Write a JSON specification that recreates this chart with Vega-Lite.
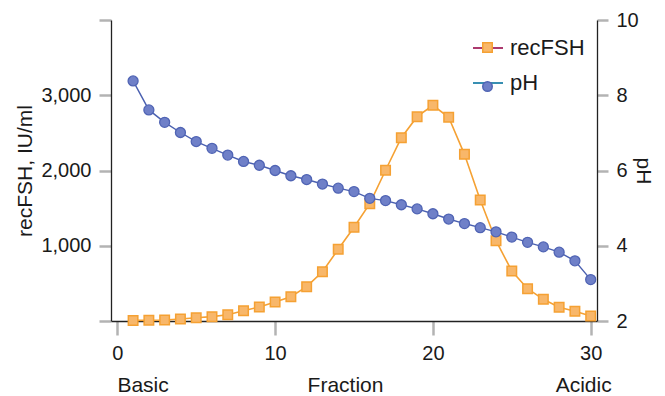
{
  "$schema": "https://vega.github.io/schema/vega-lite/v6.json",
  "width": 486,
  "height": 301,
  "autosize": {"type": "none"},
  "padding": {"left": 111, "top": 20, "right": 68, "bottom": 75},
  "config": {
    "font": "Liberation Sans",
    "view": {"stroke": null},
    "axis": {
      "labelFont": "Liberation Sans",
      "labelFontSize": 20,
      "labelColor": "#1a1a1a",
      "titleFont": "Liberation Sans",
      "titleFontSize": 21,
      "titleFontWeight": "normal",
      "titleColor": "#1a1a1a",
      "domainColor": "#222222",
      "domainWidth": 1.3,
      "tickColor": "#b3b3b3",
      "tickWidth": 2.5,
      "grid": false
    },
    "legend": {
      "labelFont": "Liberation Sans",
      "labelFontSize": 22,
      "labelColor": "#1a1a1a",
      "padding": 0,
      "offset": 0
    }
  },
  "data": {
    "values": [
      {"fraction": 1, "series": "recFSH", "value": 8},
      {"fraction": 2, "series": "recFSH", "value": 10},
      {"fraction": 3, "series": "recFSH", "value": 13},
      {"fraction": 4, "series": "recFSH", "value": 27},
      {"fraction": 5, "series": "recFSH", "value": 44},
      {"fraction": 6, "series": "recFSH", "value": 58},
      {"fraction": 7, "series": "recFSH", "value": 84},
      {"fraction": 8, "series": "recFSH", "value": 137},
      {"fraction": 9, "series": "recFSH", "value": 186},
      {"fraction": 10, "series": "recFSH", "value": 252},
      {"fraction": 11, "series": "recFSH", "value": 323},
      {"fraction": 12, "series": "recFSH", "value": 456},
      {"fraction": 13, "series": "recFSH", "value": 655},
      {"fraction": 14, "series": "recFSH", "value": 953},
      {"fraction": 15, "series": "recFSH", "value": 1245},
      {"fraction": 16, "series": "recFSH", "value": 1559},
      {"fraction": 17, "series": "recFSH", "value": 2003},
      {"fraction": 18, "series": "recFSH", "value": 2436},
      {"fraction": 19, "series": "recFSH", "value": 2715},
      {"fraction": 20, "series": "recFSH", "value": 2866},
      {"fraction": 21, "series": "recFSH", "value": 2707},
      {"fraction": 22, "series": "recFSH", "value": 2215},
      {"fraction": 23, "series": "recFSH", "value": 1608},
      {"fraction": 24, "series": "recFSH", "value": 1067},
      {"fraction": 25, "series": "recFSH", "value": 664},
      {"fraction": 26, "series": "recFSH", "value": 429},
      {"fraction": 27, "series": "recFSH", "value": 288},
      {"fraction": 28, "series": "recFSH", "value": 182},
      {"fraction": 29, "series": "recFSH", "value": 129},
      {"fraction": 30, "series": "recFSH", "value": 66},
      {"fraction": 1, "series": "pH", "value": 8.38},
      {"fraction": 2, "series": "pH", "value": 7.61},
      {"fraction": 3, "series": "pH", "value": 7.28},
      {"fraction": 4, "series": "pH", "value": 7.01},
      {"fraction": 5, "series": "pH", "value": 6.77},
      {"fraction": 6, "series": "pH", "value": 6.59},
      {"fraction": 7, "series": "pH", "value": 6.41},
      {"fraction": 8, "series": "pH", "value": 6.24},
      {"fraction": 9, "series": "pH", "value": 6.14},
      {"fraction": 10, "series": "pH", "value": 6.0},
      {"fraction": 11, "series": "pH", "value": 5.86},
      {"fraction": 12, "series": "pH", "value": 5.76},
      {"fraction": 13, "series": "pH", "value": 5.64},
      {"fraction": 14, "series": "pH", "value": 5.53},
      {"fraction": 15, "series": "pH", "value": 5.44},
      {"fraction": 16, "series": "pH", "value": 5.26},
      {"fraction": 17, "series": "pH", "value": 5.2},
      {"fraction": 18, "series": "pH", "value": 5.09},
      {"fraction": 19, "series": "pH", "value": 4.98},
      {"fraction": 20, "series": "pH", "value": 4.85},
      {"fraction": 21, "series": "pH", "value": 4.71},
      {"fraction": 22, "series": "pH", "value": 4.59},
      {"fraction": 23, "series": "pH", "value": 4.48},
      {"fraction": 24, "series": "pH", "value": 4.37},
      {"fraction": 25, "series": "pH", "value": 4.23},
      {"fraction": 26, "series": "pH", "value": 4.09},
      {"fraction": 27, "series": "pH", "value": 3.97},
      {"fraction": 28, "series": "pH", "value": 3.83},
      {"fraction": 29, "series": "pH", "value": 3.6},
      {"fraction": 30, "series": "pH", "value": 3.1}
    ]
  },
  "encoding": {
    "x": {
      "field": "fraction",
      "type": "quantitative",
      "scale": {"domain": [-0.4, 30.4], "nice": false, "zero": false},
      "axis": {
        "values": [0, 10, 20, 30],
        "title": "Fraction",
        "tickSize": 14,
        "labelPadding": 8,
        "titlePadding": 11,
        "titleX": 234
      }
    }
  },
  "layer": [
    {
      "transform": [{"filter": "datum.series === 'recFSH'"}],
      "encoding": {
        "y": {
          "field": "value",
          "type": "quantitative",
          "scale": {"domain": [0, 4000], "nice": false},
          "axis": {
            "orient": "left",
            "values": [0, 1000, 2000, 3000, 4000],
            "labelExpr": "datum.value > 0 && datum.value < 4000 ? format(datum.value, ',.0f') : ''",
            "title": "recFSH, IU/ml",
            "tickSize": 12,
            "labelPadding": 8,
            "titlePadding": 5
          }
        }
      },
      "layer": [
        {
          "mark": {"type": "line", "strokeWidth": 1.6, "stroke": "#f5a133"},
          "encoding": {
            "color": {
              "field": "series",
              "type": "nominal",
              "scale": {"domain": ["recFSH", "pH"], "range": ["#a3245e", "#2283aa"]},
              "legend": {
                "orient": "none",
                "legendX": 361,
                "legendY": 12,
                "title": null,
                "symbolType": "stroke",
                "symbolSize": 900,
                "symbolStrokeWidth": 1.8,
                "labelOffset": 6,
                "rowPadding": 8,
                "zindex": 1
              }
            }
          }
        },
        {
          "mark": {"type": "point", "filled": true, "opacity": 1, "size": 90, "strokeWidth": 1.5},
          "encoding": {
            "shape": {
              "field": "series",
              "type": "nominal",
              "sort": "descending",
              "scale": {"range": ["square", "circle"]},
              "legend": {
                "orient": "none",
                "legendX": 371,
                "legendY": 22,
                "title": null,
                "symbolSize": 90,
                "symbolStrokeWidth": 1.5,
                "labelExpr": "''",
                "labelFontSize": 1,
                "rowPadding": 22,
                "zindex": 2
              }
            },
            "fill": {
              "field": "series",
              "type": "nominal",
              "sort": "descending",
              "scale": {"range": ["#f8b76a", "#6f80c8"]},
              "legend": {
                "orient": "none",
                "legendX": 371,
                "legendY": 22,
                "title": null,
                "symbolSize": 90,
                "symbolStrokeWidth": 1.5,
                "labelExpr": "''",
                "labelFontSize": 1,
                "rowPadding": 22,
                "zindex": 2
              }
            },
            "stroke": {
              "field": "series",
              "type": "nominal",
              "sort": "descending",
              "scale": {"range": ["#f5a133", "#5064b4"]},
              "legend": {
                "orient": "none",
                "legendX": 371,
                "legendY": 22,
                "title": null,
                "symbolSize": 90,
                "symbolStrokeWidth": 1.5,
                "labelExpr": "''",
                "labelFontSize": 1,
                "rowPadding": 22,
                "zindex": 2
              }
            }
          }
        }
      ]
    },
    {
      "transform": [{"filter": "datum.series === 'pH'"}],
      "encoding": {
        "y": {
          "field": "value",
          "type": "quantitative",
          "scale": {"domain": [2, 10], "nice": false, "zero": false},
          "axis": {
            "orient": "right",
            "values": [2, 4, 6, 8, 10],
            "title": "pH",
            "tickSize": 11,
            "labelPadding": 8,
            "titlePadding": -6
          }
        }
      },
      "layer": [
        {
          "mark": {"type": "line", "strokeWidth": 1.4, "stroke": "#4a60b0"},
          "encoding": {
            "color": {"field": "series", "type": "nominal"}
          }
        },
        {
          "mark": {"type": "point", "filled": true, "opacity": 1, "size": 100, "strokeWidth": 1.3},
          "encoding": {
            "shape": {"field": "series", "type": "nominal", "sort": "descending"},
            "fill": {"field": "series", "type": "nominal", "sort": "descending"},
            "stroke": {"field": "series", "type": "nominal", "sort": "descending"}
          }
        }
      ]
    },
    {
      "data": {"values": [{"label": "Basic", "fraction": 1}]},
      "mark": {"type": "text", "font": "Liberation Sans", "fontSize": 21, "color": "#1a1a1a", "baseline": "middle", "align": "center", "y": "height", "dy": 65, "dx": 10},
      "encoding": {
        "text": {"field": "label", "type": "nominal"}
      }
    },
    {
      "data": {"values": [{"label": "Acidic", "fraction": 30}]},
      "mark": {"type": "text", "font": "Liberation Sans", "fontSize": 21, "color": "#1a1a1a", "baseline": "middle", "align": "center", "y": "height", "dy": 65, "dx": -7},
      "encoding": {
        "text": {"field": "label", "type": "nominal"}
      }
    }
  ],
  "resolve": {"scale": {"y": "independent"}, "axis": {"y": "independent"}}
}
